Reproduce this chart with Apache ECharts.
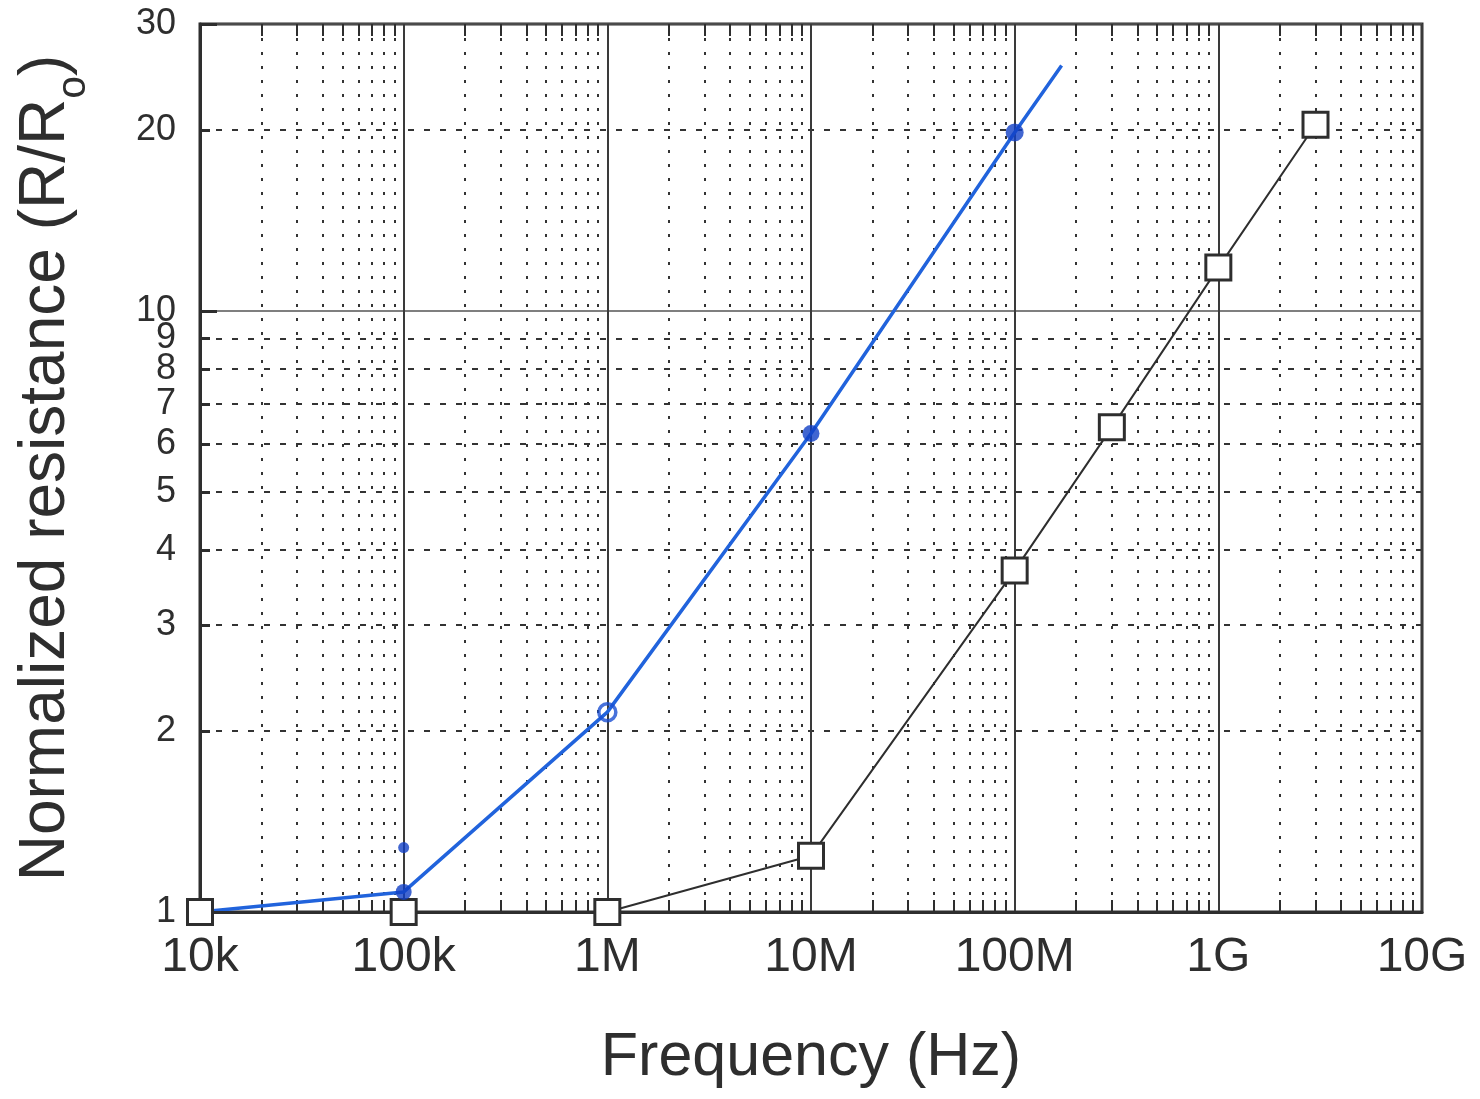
<!DOCTYPE html>
<html>
<head>
<meta charset="utf-8">
<script src="https://cdn.jsdelivr.net/npm/echarts@6/dist/echarts.min.js"></script>
<style>html,body{margin:0;padding:0;background:#fff}#c{width:1480px;height:1099px}</style>
</head>
<body>
<div id="c"></div>
<script>
// ---- tick labels ----
const xTickValues = [1e4, 1e5, 1e6, 1e7, 1e8, 1e9, 1e10];
const xTickLabels = ['10k', '100k', '1M', '10M', '100M', '1G', '10G'];
const xMinorMultipliers = [2, 3, 4, 5, 6, 7, 8, 9];
const yTickValues = [1, 2, 3, 4, 5, 6, 7, 8, 9, 10, 20, 30];
const yTickLabels = ['1', '2', '3', '4', '5', '6', '7', '8', '9', '10', '20', '30'];
const yMinorValues = [2, 3, 4, 5, 6, 7, 8, 9, 20];

// ---- series: open squares (black) ----
const squareFreq = [1e4, 1e5, 1e6, 1e7, 1e8, 3e8, 1e9, 3e9];
const squareRes = [1.0, 1.0, 1.0, 1.24, 3.7, 6.4, 11.8, 20.4];

// ---- series: hand-drawn blue curve ----
const blueFreq = [1e4, 1e5, 1e6, 1e7, 1e8, 1.7e8];
const blueRes = [1.0, 1.08, 2.15, 6.25, 19.8, 25.6];

// ---- blue pen marks ----
const dotFreq = [1e5, 1e7, 1e8, 1e5];
const dotRes = [1.08, 6.25, 19.8, 1.28];
const dotSizes = [16, 17, 18, 11];
const ringFreq = [1e6];
const ringRes = [2.15];

const FONT = 'Liberation Sans, Arial, Helvetica, sans-serif';
const INK = '#2e2e2e';

const xMinorLog = [];
for (let d = 4; d < 10; d++) {
  xMinorMultipliers.forEach(k => xMinorLog.push(Math.log10(k * Math.pow(10, d))));
}
const yMinorLog = yMinorValues.map(v => Math.log10(v));
const yLabelLog = yTickValues.map(v => Math.log10(v));

function xLabel(v) {
  const i = xTickValues.findIndex(t => Math.abs(Math.log10(t) - Math.log10(v)) < 1e-6);
  return i >= 0 ? xTickLabels[i] : '';
}
function yLabel(v) {
  const i = yLabelLog.findIndex(t => Math.abs(t - v) < 1e-6);
  return i >= 0 ? yTickLabels[i] : '';
}

const chart = echarts.init(document.getElementById('c'), null, {renderer: 'canvas'});
chart.setOption({
  backgroundColor: '#ffffff',
  animation: false,
  grid: {left: 200, right: 58, top: 24, bottom: 187, show: true, borderColor: INK, borderWidth: 3,
         containLabel: false, outerBoundsMode: 'none'},
  xAxis: [
    {
      type: 'log', logBase: 10, min: 1e4, max: 1e10, position: 'bottom', splitNumber: 6,
      name: 'Frequency (Hz)', nameLocation: 'middle', nameGap: 116,
      nameTextStyle: {fontFamily: FONT, fontSize: 61, color: INK},
      axisLine: {show: true, lineStyle: {color: INK, width: 3}},
      axisTick: {show: false},
      axisLabel: {fontFamily: FONT, fontSize: 48, color: INK, margin: 22, formatter: xLabel},
      splitLine: {show: true, lineStyle: {color: '#3a3a3a', width: 2}},
      minorTick: {show: false}, minorSplitLine: {show: false}
    },
    {
      type: 'value', min: 4, max: 10, position: 'bottom',
      axisLine: {show: false}, axisLabel: {show: false},
      axisTick: {show: true, inside: true, length: 12, customValues: xMinorLog, lineStyle: {color: INK, width: 2}},
      splitLine: {show: true, lineStyle: {color: '#333', width: 2, type: [3, 11]}}
    },
    {
      type: 'value', min: 4, max: 10, position: 'top',
      axisLine: {show: false}, axisLabel: {show: false},
      axisTick: {show: true, inside: true, length: 12, customValues: xMinorLog, lineStyle: {color: INK, width: 2}},
      splitLine: {show: false}
    }
  ],
  yAxis: [
    {
      type: 'log', logBase: 10, min: 1, max: 30, position: 'left',
      name: '{n|Normalized resistance (R/R}{s|o}{n|)}', nameLocation: 'middle', nameGap: 106,
      nameTextStyle: {
        fontFamily: FONT, color: INK,
        rich: {
          n: {fontFamily: FONT, fontSize: 64, color: INK, lineHeight: 80, verticalAlign: 'top'},
          s: {fontFamily: FONT, fontSize: 41, color: INK, lineHeight: 80, verticalAlign: 'bottom'}
        }
      },
      axisLine: {show: true, lineStyle: {color: INK, width: 3}},
      axisTick: {show: true, inside: true, length: 17, lineStyle: {color: INK, width: 3}},
      axisLabel: {show: false},
      splitLine: {show: true, lineStyle: {color: '#555', width: 1.5}}
    },
    {
      type: 'value', min: 0, max: Math.log10(30), position: 'left',
      axisLine: {show: false},
      axisTick: {show: true, inside: true, length: 10, customValues: yMinorLog, lineStyle: {color: INK, width: 3}},
      axisLabel: {show: true, customValues: yLabelLog, fontFamily: FONT, fontSize: 36, color: INK, margin: 24, formatter: yLabel},
      splitLine: {show: true, lineStyle: {color: '#333', width: 2, type: [6, 10]}}
    }
  ],
  series: [
    {
      type: 'line', name: 'Measured (blue)', xAxisIndex: 0, yAxisIndex: 0,
      data: blueFreq.map((f, i) => [f, blueRes[i]]),
      smooth: false, symbol: 'none', z: 2,
      lineStyle: {color: '#2163dc', width: 3.5}
    },
    {
      type: 'line', name: 'Squares', xAxisIndex: 0, yAxisIndex: 0,
      data: squareFreq.map((f, i) => [f, squareRes[i]]),
      symbol: 'rect', symbolSize: 25, showAllSymbol: true, z: 3,
      lineStyle: {color: INK, width: 2},
      itemStyle: {color: '#ffffff', borderColor: INK, borderWidth: 3}
    },
    {
      type: 'scatter', name: 'Pen dots', xAxisIndex: 0, yAxisIndex: 0, z: 4,
      data: dotFreq.map((f, i) => ({value: [f, dotRes[i]], symbolSize: dotSizes[i]})),
      symbol: 'circle', itemStyle: {color: '#1240c6'}
    },
    {
      type: 'scatter', name: 'Pen ring', xAxisIndex: 0, yAxisIndex: 0, z: 4,
      data: ringFreq.map((f, i) => [f, ringRes[i]]),
      symbol: 'circle', symbolSize: 17,
      itemStyle: {color: 'rgba(255,255,255,0)', borderColor: '#1a4fd2', borderWidth: 3.5}
    }
  ]
});
</script>
</body>
</html>
